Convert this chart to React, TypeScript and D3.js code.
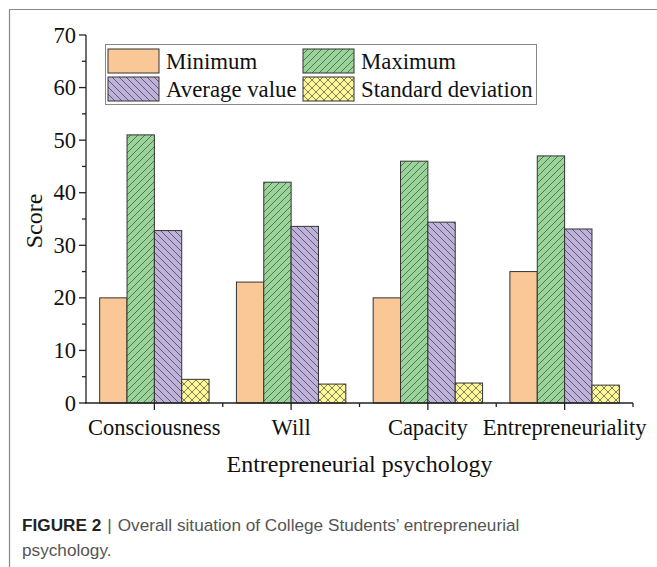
import * as d3 from 'd3';

const categories = ['Consciousness', 'Will', 'Capacity', 'Entrepreneuriality'];
const seriesNames = ['Minimum', 'Maximum', 'Average value', 'Standard deviation'];
const minimum = [20, 23, 20, 25];
const maximum = [51, 42, 46, 47];
const average = [32.8, 33.6, 34.4, 33.1];
const stdDev = [4.5, 3.6, 3.8, 3.4];
const yTicks = [0, 10, 20, 30, 40, 50, 60, 70];

const fills = ['#F9C896', '#9AD49A', '#BFB2D8', '#FBF79A'];
const patterns = ['none', 'fwd', 'back', 'cross'];

const serif = '"Liberation Serif", "Times New Roman", serif';
const sans = '"Liberation Sans", Arial, sans-serif';

const W = 657;
const H = 567;
const left = 86;
const right = 633;
const top = 35;
const bottom = 403;

const App = () => {
  const series = [minimum, maximum, average, stdDev];
  const x = d3.scaleBand<string>().domain(categories).range([left, right]).paddingInner(0).paddingOuter(0);
  const inner = d3.scaleBand<number>().domain([0, 1, 2, 3]).range([0, x.bandwidth() * 0.8]);
  const y = d3.scaleLinear().domain([0, 70]).range([bottom, top]);
  const minorY = d3.range(5, 70, 10);
  const off = x.bandwidth() * 0.1;

  const fillFor = (i: number) => (patterns[i] === 'none' ? fills[i] : `url(#pat-${patterns[i]})`);

  const legendItems = [
    { i: 0, x: 108, y: 49 },
    { i: 1, x: 303, y: 49 },
    { i: 2, x: 108, y: 77 },
    { i: 3, x: 303, y: 77 },
  ];

  return (
    <svg width={W} height={H} style={{ position: 'absolute', left: 0, top: 0 }}>
      <defs>
        <pattern id="pat-fwd" width={7} height={7} patternUnits="userSpaceOnUse">
          <rect width={7} height={7} fill={fills[1]} />
          <path d="M-1,1 l2,-2 M0,7 l7,-7 M6,8 l2,-2" stroke="#2f4f2f" strokeWidth={0.7} />
        </pattern>
        <pattern id="pat-back" width={7} height={7} patternUnits="userSpaceOnUse">
          <rect width={7} height={7} fill={fills[2]} />
          <path d="M-1,6 l2,2 M0,0 l7,7 M6,-1 l2,2" stroke="#3a3050" strokeWidth={0.7} />
        </pattern>
        <pattern id="pat-cross" width={8} height={8} patternUnits="userSpaceOnUse">
          <rect width={8} height={8} fill={fills[3]} />
          <path d="M0,8 l8,-8 M-1,1 l2,-2 M7,9 l2,-2 M0,0 l8,8 M-1,7 l2,2 M7,-1 l2,2" stroke="#4a4a30" strokeWidth={0.7} />
        </pattern>
      </defs>

      <rect x={0} y={0} width={W} height={H} fill="#fff" />
      <path d={`M9.5,${H} V9.5 H${W}`} fill="none" stroke="#8a8a8a" strokeWidth={1.2} />

      {/* bars */}
      {categories.map((c, ci) => (
        <g key={c}>
          {series.map((s, si) => (
            <rect
              key={si}
              x={(x(c) as number) + off + (inner(si) as number)}
              y={y(s[ci])}
              width={inner.bandwidth()}
              height={bottom - y(s[ci])}
              fill={fillFor(si)}
              stroke="#333"
              strokeWidth={1}
            />
          ))}
        </g>
      ))}

      {/* y axis */}
      <line x1={left} x2={left} y1={top} y2={bottom} stroke="#222" strokeWidth={1.3} />
      {yTicks.map(t => (
        <g key={t}>
          <line x1={left - 7} x2={left} y1={y(t)} y2={y(t)} stroke="#222" strokeWidth={1.3} />
          <text x={left - 10} y={y(t) + 7.5} textAnchor="end" fontFamily={serif} fontSize={22.5} fill="#111">{t}</text>
        </g>
      ))}
      {minorY.map(t => (
        <line key={t} x1={left - 4} x2={left} y1={y(t)} y2={y(t)} stroke="#222" strokeWidth={1.3} />
      ))}
      <text transform={`translate(42,${(top + bottom) / 2 + 2}) rotate(-90)`} textAnchor="middle" fontFamily={serif} fontSize={24} fill="#111">Score</text>

      {/* x axis */}
      <line x1={left - 1} x2={right} y1={bottom} y2={bottom} stroke="#222" strokeWidth={1.3} />
      {categories.map(c => (
        <g key={c}>
          <line x1={(x(c) as number) + x.bandwidth() / 2} x2={(x(c) as number) + x.bandwidth() / 2} y1={bottom} y2={bottom + 7} stroke="#222" strokeWidth={1.3} />
          <text x={(x(c) as number) + x.bandwidth() / 2} y={435} textAnchor="middle" fontFamily={serif} fontSize={22.5} fill="#111">{c}</text>
        </g>
      ))}
      {categories.slice(1).map(c => (
        <line key={c} x1={x(c) as number} x2={x(c) as number} y1={bottom} y2={bottom + 4} stroke="#222" strokeWidth={1.3} />
      ))}
      <line x1={right} x2={right} y1={bottom} y2={bottom + 4} stroke="#222" strokeWidth={1.3} />
      <text x={(left + right) / 2} y={472} textAnchor="middle" fontFamily={serif} fontSize={24} fill="#111">Entrepreneurial psychology</text>

      {/* legend */}
      <rect x={105.5} y={44.5} width={431} height={60} fill="#fff" stroke="#888" strokeWidth={1} />
      {legendItems.map(l => (
        <g key={l.i}>
          <rect x={l.x} y={l.y} width={51} height={24} fill={fillFor(l.i)} stroke="#333" strokeWidth={1} />
          <text x={l.x + 58} y={l.y + 20} fontFamily={serif} fontSize={22.8} fill="#111">{seriesNames[l.i]}</text>
        </g>
      ))}

      {/* caption */}
      <text x={22} y={531} fontFamily={sans} fontSize={17.2} fill="#555">
        <tspan fontWeight="bold" fill="#222">FIGURE 2</tspan>
        <tspan dx={6}>|</tspan>
        <tspan dx={6}>Overall situation of College Students’ entrepreneurial</tspan>
      </text>
      <text x={22} y={556} fontFamily={sans} fontSize={17.2} fill="#555">psychology.</text>
    </svg>
  );
};

export default App;
